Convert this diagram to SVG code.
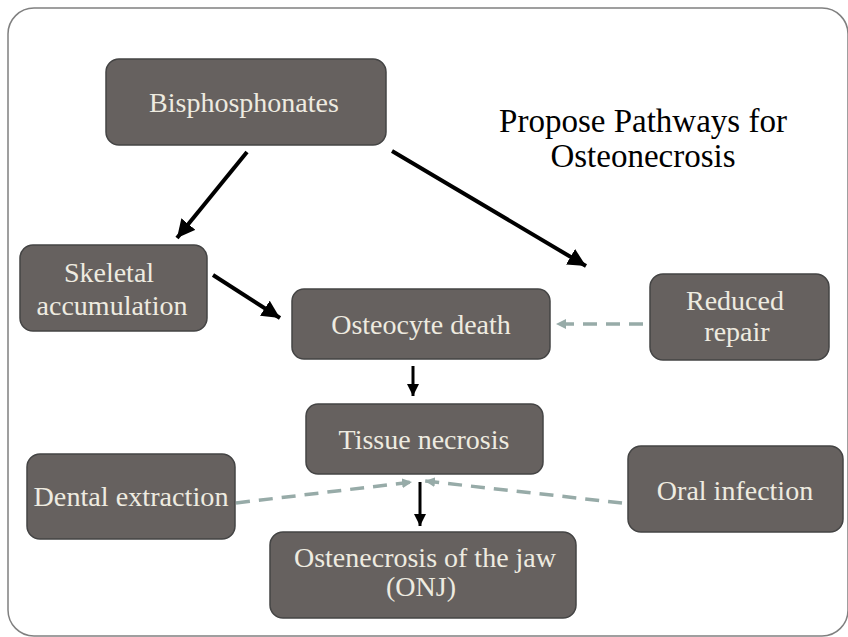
<svg xmlns="http://www.w3.org/2000/svg" width="848" height="637" viewBox="0 0 848 637">
<style>
.box{fill:#66615f;stroke:#444;stroke-width:1.5}
.t{font-family:'Liberation Serif',Tinos,'Times New Roman',Times,'Noto Serif','DejaVu Serif',FreeSerif,serif;font-size:28px;fill:#eeebe0;text-anchor:middle}
.title{font-family:'Liberation Serif',Tinos,'Times New Roman',Times,'Noto Serif','DejaVu Serif',FreeSerif,serif;font-size:33px;fill:#000;text-anchor:middle}
.solid{stroke:#000;stroke-width:4;fill:none}
.thin{stroke:#000;stroke-width:3;fill:none}
.dash{stroke:#97aba8;stroke-width:3.5;stroke-dasharray:14 9;fill:none}
</style>
<defs>
<marker id="ab" markerUnits="userSpaceOnUse" markerWidth="20" markerHeight="18" refX="18" refY="9" orient="auto"><path d="M0,0 L18,9 L0,18 Z" fill="#000"/></marker>
<marker id="as" markerUnits="userSpaceOnUse" markerWidth="14" markerHeight="14" refX="12" refY="6" orient="auto"><path d="M0,0 L12,6 L0,12 Z" fill="#000"/></marker>
<marker id="ad" markerUnits="userSpaceOnUse" markerWidth="12" markerHeight="12" refX="10" refY="5" orient="auto"><path d="M0,0 L10,5 L0,10 Z" fill="#97aba8"/></marker>
</defs>
<rect x="8" y="8" width="840" height="628" rx="26" fill="#fff" stroke="#808080" stroke-width="1.5"/>
<g id="title">
<text class="title" x="643" y="132">Propose Pathways for</text>
<text class="title" x="643" y="167">Osteonecrosis</text>
</g>
<g id="connectors">
<line class="solid" x1="247" y1="152" x2="177" y2="238" marker-end="url(#ab)"/>
<line class="solid" x1="392" y1="151" x2="586" y2="266" marker-end="url(#ab)"/>
<line class="solid" x1="213" y1="275" x2="280" y2="318" marker-end="url(#ab)"/>
<line class="thin" x1="413" y1="366" x2="413" y2="396" marker-end="url(#as)"/>
<line class="thin" x1="420" y1="482" x2="420" y2="526" marker-end="url(#as)"/>
<line class="dash" x1="643" y1="324" x2="556" y2="324" marker-end="url(#ad)"/>
<line class="dash" x1="236" y1="503" x2="412" y2="482" marker-end="url(#ad)"/>
<line class="dash" x1="622" y1="503" x2="425" y2="481" marker-end="url(#ad)"/>
</g>
<g id="bisphosphonates">
<rect class="box" x="106" y="59" width="280" height="86" rx="13"/>
<text class="t" x="244" y="112">Bisphosphonates</text>
</g>
<g id="skeletal">
<rect class="box" x="20" y="245" width="187" height="86" rx="13"/>
<text class="t" x="109" y="282">Skeletal</text>
<text class="t" x="112" y="315">accumulation</text>
</g>
<g id="osteocyte">
<rect class="box" x="292" y="289" width="258" height="70" rx="12"/>
<text class="t" x="421" y="334">Osteocyte death</text>
</g>
<g id="reduced">
<rect class="box" x="650" y="274" width="179" height="86" rx="13"/>
<text class="t" x="735" y="310">Reduced</text>
<text class="t" x="737" y="341">repair</text>
</g>
<g id="tissue">
<rect class="box" x="306" y="404" width="237" height="70" rx="12"/>
<text class="t" x="424" y="449">Tissue necrosis</text>
</g>
<g id="dental">
<rect class="box" x="27" y="454" width="208" height="85" rx="13"/>
<text class="t" x="131" y="506" textLength="195" lengthAdjust="spacingAndGlyphs">Dental extraction</text>
</g>
<g id="oral">
<rect class="box" x="628" y="446" width="215" height="86" rx="13"/>
<text class="t" x="735" y="500">Oral infection</text>
</g>
<g id="onj">
<rect class="box" x="270" y="532" width="306" height="86" rx="13"/>
<text class="t" x="425" y="567">Ostenecrosis of the jaw</text>
<text class="t" x="421" y="596">(ONJ)</text>
</g>
</svg>
